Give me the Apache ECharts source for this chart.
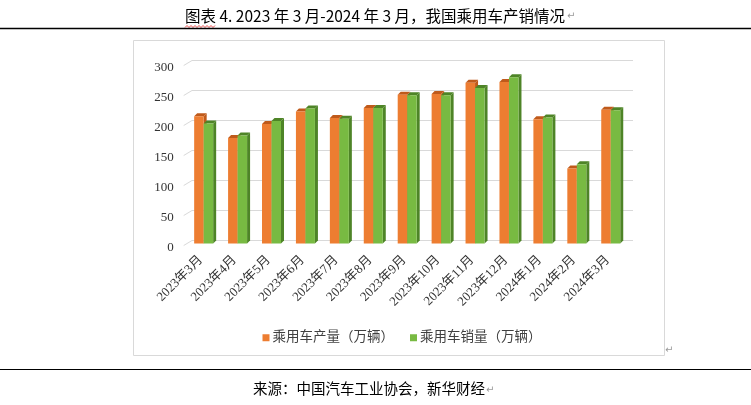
<!DOCTYPE html>
<html>
<head>
<meta charset="utf-8">
<script src="https://cdn.jsdelivr.net/npm/echarts@6/dist/echarts.min.js"></script>
<style>
html,body{margin:0;padding:0;background:#fff;}
#chart{width:751px;height:405px;}
</style>
</head>
<body>
<div id="chart"></div>
<script>
var categories = ['2023年3月','2023年4月','2023年5月','2023年6月','2023年7月','2023年8月','2023年9月','2023年10月','2023年11月','2023年12月','2024年1月','2024年2月','2024年3月'];
var production = [212, 176, 199, 220, 209, 226, 248, 249, 268, 269, 207, 125, 223];
var sales = [200, 180, 204, 225, 208, 226, 247, 247, 259, 277, 210, 132, 222];
var yTicks = [0, 50, 100, 150, 200, 250, 300];
var seriesNames = ['乘用车产量（万辆）', '乘用车销量（万辆）'];

var serif = '"Liberation Serif", "Noto Sans CJK SC", serif';
var cjk = '"Noto Sans CJK SC", sans-serif';

function barRenderer(slot, front, dark) {
  return function (params, api) {
    var i = api.value(0), v = api.value(1);
    var top = api.coord([i, v]);
    var base = api.coord([i, 0]);
    var w = 9.5, d = 3;
    var cx = top[0] - 5.3;
    var xl = slot === 0 ? cx - w : cx;
    var xr = xl + w;
    var yt = top[1] + 3, yb = base[1] + 3;
    return {
      type: 'group',
      children: [
        { type: 'polygon', shape: { points: [[xr, yt], [xr + d, yt - d], [xr + d, yb - d], [xr, yb]] }, style: { fill: dark } },
        { type: 'polygon', shape: { points: [[xl, yt], [xr, yt], [xr + d, yt - d], [xl + d, yt - d]] }, style: { fill: dark } },
        { type: 'rect', shape: { x: xl, y: yt, width: w, height: yb - yt }, style: { fill: front } }
      ]
    };
  };
}

var chart = echarts.init(document.getElementById('chart'), null, { renderer: 'canvas' });

var wave = [];
for (var k = 0; k <= 15; k++) { wave.push([185 + k * 2, k % 2 === 0 ? 27.5 : 25.5]); }

var option = {
  backgroundColor: '#ffffff',
  animation: false,
  graphic: [
    { type: 'text', x: 185, y: 8, style: { text: '图表 4. 2023 年 3 月-2024 年 3 月，我国乘用车产销情况', font: '15.5px ' + cjk, fill: '#000' } },
    { type: 'text', x: 567, y: 11, style: { text: '↵', font: '10px "DejaVu Sans"', fill: '#999' } },
    { type: 'polyline', shape: { points: wave }, style: { stroke: '#e02020', lineWidth: 0.8, fill: null } },
    { type: 'line', shape: { x1: 0, y1: 28.5, x2: 751, y2: 28.5 }, style: { stroke: '#000', lineWidth: 1.5 } },
    { type: 'rect', shape: { x: 133.5, y: 40.5, width: 531, height: 315 }, style: { stroke: '#d9d9d9', lineWidth: 1, fill: null } },
    { type: 'text', x: 665, y: 345, style: { text: '↵', font: '10px "DejaVu Sans"', fill: '#999' } },
    { type: 'line', shape: { x1: 0, y1: 369.5, x2: 751, y2: 369.5 }, style: { stroke: '#000', lineWidth: 1.2 } },
    { type: 'text', x: 253, y: 381, style: { text: '来源：中国汽车工业协会，新华财经', font: '14.5px ' + cjk, fill: '#000' } },
    { type: 'text', x: 486, y: 385, style: { text: '↵', font: '10px "DejaVu Sans"', fill: '#999' } }
  ],
  legend: {
    data: [
      { name: seriesNames[0], icon: 'rect', itemStyle: { color: '#ED7D31' } },
      { name: seriesNames[1], icon: 'rect', itemStyle: { color: '#78BA42' } }
    ],
    left: 257.5, top: 326,
    itemWidth: 7, itemHeight: 7, itemGap: 16,
    textStyle: { fontFamily: serif, fontSize: 13.5, color: '#404040', padding: [0, 0, 0, -2] }
  },
  grid: [
    { left: 192, top: 60.5, width: 441, height: 180 },
    { left: 183.7, top: 68, width: 441, height: 180 }
  ],
  xAxis: [
    { type: 'category', gridIndex: 0, data: categories, boundaryGap: true, axisLine: { show: false }, axisTick: { show: false }, axisLabel: { show: false } },
    { type: 'category', gridIndex: 1, data: categories, boundaryGap: true, axisLine: { show: false }, axisTick: { show: false },
      axisLabel: { rotate: 45, margin: 10, interval: 0, fontFamily: serif, fontSize: 13, color: '#333' } }
  ],
  yAxis: [
    { type: 'value', gridIndex: 0, min: 0, max: 300, interval: 50, axisLabel: { show: false }, axisLine: { show: false }, axisTick: { show: false },
      splitLine: { lineStyle: { color: '#d9d9d9', width: 1 } } },
    { type: 'value', gridIndex: 1, min: 0, max: 300, interval: 50, axisLine: { show: false }, axisTick: { show: false }, splitLine: { show: false },
      axisLabel: { margin: 10, fontFamily: serif, fontSize: 13, color: '#333' } }
  ],
  series: [
    {
      type: 'custom', name: 'ticks', xAxisIndex: 0, yAxisIndex: 0, silent: true,
      data: yTicks.map(function (t) { return [0, t]; }),
      renderItem: function (params, api) {
        var y = api.coord([0, api.value(1)])[1];
        var x = params.coordSys.x;
        return { type: 'line', shape: { x1: x, y1: y, x2: x - 8.3, y2: y + 5 }, style: { stroke: '#d9d9d9', lineWidth: 1 } };
      }
    },
    {
      type: 'custom', name: seriesNames[0], xAxisIndex: 0, yAxisIndex: 0,
      itemStyle: { color: '#ED7D31' },
      data: production.map(function (v, i) { return [i, v]; }),
      renderItem: barRenderer(0, '#ED7D31', '#BF5A1B')
    },
    {
      type: 'custom', name: seriesNames[1], xAxisIndex: 0, yAxisIndex: 0,
      itemStyle: { color: '#78BA42' },
      data: sales.map(function (v, i) { return [i, v]; }),
      renderItem: barRenderer(1, '#78BA42', '#4E8427')
    }
  ]
};
chart.setOption(option);
</script>
</body>
</html>
